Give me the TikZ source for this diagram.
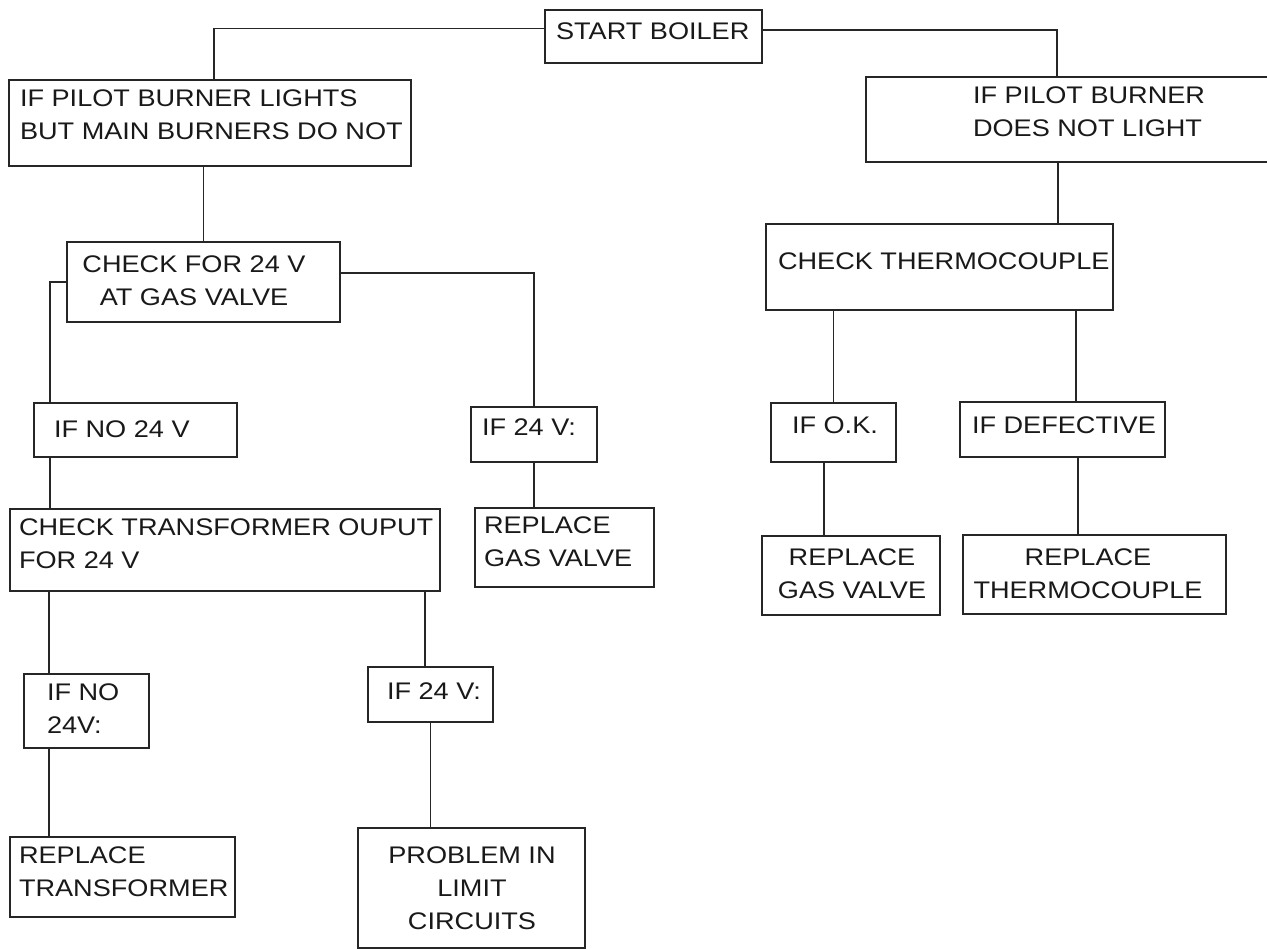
\documentclass[tikz,border=0pt]{standalone}
\usepackage{fontspec}
\setmainfont[FakeStretch=1.13]{Liberation Sans}
\newcommand\txtL[1]{\begin{tabular}[t]{@{}l@{}}#1\end{tabular}}
\newcommand\txtC[1]{\begin{tabular}[t]{@{}c@{}}#1\end{tabular}}
\begin{document}
\begin{tikzpicture}[x=0.5pt,y=-0.5pt,
  box/.style={draw=black!85, line width=0.6pt, inner sep=0pt, outer sep=0pt, rectangle},
  lbl/.style={inner sep=0pt, outer sep=0pt, anchor=base west, text=black!90, font=\fontsize{12pt}{16.5pt}\selectfont},
  lblc/.style={lbl, anchor=base},
  conn/.style={draw=black!85, line width=0.6pt}]
\fill[white] (0,0) rectangle (1267,949);
\useasboundingbox (0,0) rectangle (1267,949);
% boxes
\node[box, minimum width=108.5pt, minimum height=26.5pt] (start) at (653.5,36.5) {};
\node[box, minimum width=201pt, minimum height=43pt] (b1) at (210,123) {};
\node[box, minimum width=203pt, minimum height=42.5pt] (r1) at (1069,119.5) {};
\node[box, minimum width=136.5pt, minimum height=40pt] (b2) at (203.5,282) {};
\node[box, minimum width=173.5pt, minimum height=43pt] (r2) at (939.5,267) {};
\node[box, minimum width=101.5pt, minimum height=27pt] (no24) at (135.5,430) {};
\node[box, minimum width=63pt, minimum height=27.5pt] (y24) at (534,434.5) {};
\node[box, minimum width=89.5pt, minimum height=39.5pt] (rgv1) at (564.5,547.5) {};
\node[box, minimum width=215pt, minimum height=41pt] (ctr) at (225,550) {};
\node[box, minimum width=62.5pt, minimum height=37pt] (no24b) at (86.5,711) {};
\node[box, minimum width=62.5pt, minimum height=27.5pt] (y24b) at (430.5,694.5) {};
\node[box, minimum width=112.5pt, minimum height=40pt] (rtr) at (122.5,877) {};
\node[box, minimum width=113.5pt, minimum height=60pt] (prob) at (471.5,888) {};
\node[box, minimum width=62.5pt, minimum height=29.5pt] (ok) at (833.5,432.5) {};
\node[box, minimum width=102.5pt, minimum height=27.5pt] (def) at (1062.5,429.5) {};
\node[box, minimum width=89pt, minimum height=39.5pt] (rgv2) at (851,575.5) {};
\node[box, minimum width=131.5pt, minimum height=39.5pt] (rth) at (1094.5,574.5) {};
% texts
\node[lbl] (t1) at (556,39) {START BOILER};
\node[lbl] (t2) at (20,106) {\txtL{IF PILOT BURNER LIGHTS\\BUT MAIN BURNERS DO NOT}};
\node[lbl] (t3) at (973,103) {\txtL{IF PILOT BURNER\\DOES NOT LIGHT}};
\node[lblc] (t4) at (194,272) {\txtC{CHECK FOR 24 V\\AT GAS VALVE}};
\node[lbl] (t5) at (778,269) {CHECK THERMOCOUPLE};
\node[lbl] (t6) at (54,437) {IF NO 24 V};
\node[lbl] (t7) at (482,435) {IF 24 V:};
\node[lbl] (t8) at (484,533) {\txtL{REPLACE\\GAS VALVE}};
\node[lbl] (t9) at (19,535) {\txtL{CHECK TRANSFORMER OUPUT\\FOR 24 V}};
\node[lbl] (t10) at (47,700) {\txtL{IF NO\\24V:}};
\node[lbl] (t11) at (387,699) {IF 24 V:};
\node[lbl] (t12) at (19,863) {\txtL{REPLACE\\TRANSFORMER}};
\node[lblc] (t13) at (472,863) {\txtC{PROBLEM IN\\LIMIT\\CIRCUITS}};
\node[lbl] (t14) at (792,433) {IF O.K.};
\node[lbl] (t15) at (972,433) {IF DEFECTIVE};
\node[lblc] (t16) at (852,565) {\txtC{REPLACE\\GAS VALVE}};
\node[lblc] (t17) at (1088,565) {\txtC{REPLACE\\THERMOCOUPLE}};
% helper coordinates
\coordinate (g1) at ([xshift=8pt]no24.south west);
\coordinate (h1) at ([xshift=12.5pt]no24b.north west);
\coordinate (h2) at ([xshift=12.5pt]no24b.south west);
\coordinate (i1) at ([xshift=-2.75pt]y24b.north);
\coordinate (l1) at ([xshift=-5.5pt]r1.south);
\coordinate (n1) at ([xshift=6.75pt]def.north);
\coordinate (o1) at ([xshift=-4.75pt]ok.south);
\coordinate (p1) at ([xshift=7.75pt]def.south);
% connectors
\draw[conn] ([yshift=4pt]start.west) -| ([xshift=2pt]b1.north);
\draw[conn] ([yshift=3.25pt]start.east) -| ([xshift=-6pt]r1.north);
\draw[conn] (b2.north) -- (b2.north |- b1.south);
\draw[conn] (b2.west) -| ([xshift=8pt]no24.north west);
\draw[conn] ([yshift=4.5pt]b2.east) -| (y24.north);
\draw[conn] (y24.south) -- (y24.south |- rgv1.north);
\draw[conn] (g1) -- (g1 |- ctr.north);
\draw[conn] (h1) -- (h1 |- ctr.south);
\draw[conn] (i1) -- (i1 |- ctr.south);
\draw[conn] (h2) -- (h2 |- rtr.north);
\draw[conn] (y24b.south) -- (y24b.south |- prob.north);
\draw[conn] (l1) -- (l1 |- r2.north);
\draw[conn] (ok.north) -- (ok.north |- r2.south);
\draw[conn] (n1) -- (n1 |- r2.south);
\draw[conn] (o1) -- (o1 |- rgv2.north);
\draw[conn] (p1) -- (p1 |- rth.north);
\end{tikzpicture}
\end{document}
